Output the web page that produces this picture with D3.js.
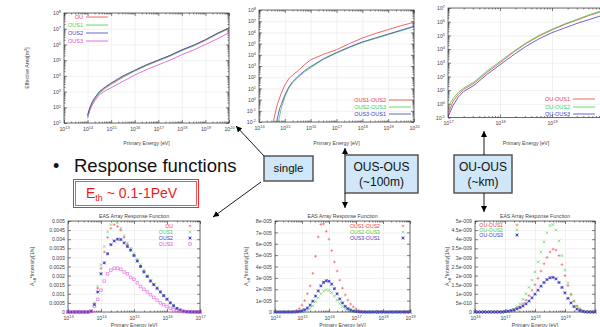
<!DOCTYPE html>
<html>
<head>
<meta charset="utf-8">
<script src="https://cdn.jsdelivr.net/npm/d3@7"></script>
<style>
  body { margin: 0; background: #fff; }
  svg { display: block; font-family: "Liberation Sans", Arial, sans-serif; }
</style>
</head>
<body>
<svg id="chart" width="600" height="327"></svg>
<script>
// ---------- data (energies and areas as log10 exponents) ----------
// top-left: effective area, single station
const areaExpX = [13, 14, 15, 16, 17, 18, 19, 20];
const areaExpY = [1, 2, 3, 4, 5, 6, 7, 8];
const areaE    = [14.0, 14.1, 14.2, 14.3, 14.5, 14.75, 15.0, 15.5, 16.0, 16.5, 17.0, 17.5, 18.0, 18.5, 19.0, 19.5, 20.0];
const areaOU   = [1.45, 1.95, 2.3, 2.55, 2.95, 3.25, 3.5, 3.95, 4.35, 4.7, 5.0, 5.3, 5.65, 5.95, 6.3, 6.7, 7.05];
const areaOUS1 = [1.4, 1.9, 2.25, 2.5, 2.9, 3.2, 3.45, 3.9, 4.3, 4.65, 4.95, 5.25, 5.6, 5.9, 6.25, 6.65, 7.0];
const areaOUS2 = [1.5, 2.0, 2.35, 2.6, 3.0, 3.3, 3.55, 4.0, 4.35, 4.7, 5.0, 5.3, 5.65, 5.95, 6.3, 6.7, 7.05];
const areaOUS3 = [1.3, 1.8, 2.15, 2.4, 2.8, 3.05, 3.25, 3.65, 4.05, 4.4, 4.7, 5.0, 5.35, 5.65, 6.0, 6.35, 6.75];

// top-middle: OUS-OUS coincidence
const pairExpX = [14, 15, 16, 17, 18, 19, 20];
const pairExpY = [-2, -1, 0, 1, 2, 3, 4, 5, 6, 7, 8];
const pair12E = [14.55, 14.7, 14.85, 15.0, 15.15, 15.3, 15.5, 15.75, 16.0, 16.5, 17.0, 17.5, 18.0, 18.5, 19.0, 19.5, 20.0];
const pair12A = [-2, -0.5, 0.5, 1.3, 1.85, 2.2, 2.55, 3.1, 3.55, 4.05, 4.45, 5.0, 5.5, 5.9, 6.25, 6.6, 6.9];
const pair23E = [14.75, 14.85, 15.0, 15.15, 15.3, 15.5, 15.75, 16.0, 16.5, 17.0, 17.5, 18.0, 18.5, 19.0, 19.5, 20.0];
const pair23A = [-2, -0.9, 0.25, 1.0, 1.5, 1.95, 2.45, 2.85, 3.6, 4.15, 4.65, 5.1, 5.45, 5.8, 6.15, 6.5];
const pair31E = [14.68, 14.8, 15.0, 15.15, 15.3, 15.5, 15.75, 16.0, 16.5, 17.0, 17.5, 18.0, 18.5, 19.0, 19.5, 20.0];
const pair31A = [-2, -0.8, 0.4, 1.1, 1.6, 2.05, 2.55, 2.95, 3.65, 4.2, 4.7, 5.15, 5.5, 5.85, 6.2, 6.55];

// top-right: OU-OUS coincidence
const farExpX = [17, 18, 19, 20];
const farExpY = [-1, 0, 1, 2, 3, 4, 5, 6, 7];
const farE  = [17.0, 17.1, 17.2, 17.3, 17.5, 17.75, 18.0, 18.25, 18.5, 18.75, 19.0, 19.25, 19.5, 19.75, 20.0];
const far1A = [-0.7, 0.2, 0.7, 1.05, 1.5, 2.3, 3.0, 3.75, 4.4, 4.95, 5.4, 5.8, 6.15, 6.5, 6.8];
const far2A = [-0.2, 0.4, 0.85, 1.15, 1.6, 2.4, 3.1, 3.8, 4.45, 5.0, 5.45, 5.85, 6.2, 6.55, 6.85];
const far3A = [-0.95, -0.1, 0.5, 0.9, 1.35, 2.15, 2.85, 3.55, 4.2, 4.75, 5.2, 5.55, 5.9, 6.2, 6.5];

// bottom-left: response function, single station
const rf1ExpX = [13, 14, 15, 16, 17];
const rf1Ticks = [0, 0.0005, 0.001, 0.0015, 0.002, 0.0025, 0.003, 0.0035, 0.004, 0.0045, 0.005];
const rf1Labels = ["0", "0.0005", "0.001", "0.0015", "0.002", "0.0025", "0.003", "0.0035", "0.004", "0.0045", "0.005"];
const rf1E = [13.0, 13.1, 13.2, 13.3, 13.4, 13.5, 13.6, 13.7, 13.8, 13.9, 14.0, 14.1, 14.2, 14.3, 14.4, 14.5, 14.6, 14.7, 14.8, 14.9,
              15.0, 15.1, 15.2, 15.3, 15.4, 15.5, 15.6, 15.7, 15.8, 15.9, 16.0, 16.1, 16.2, 16.3, 16.4, 16.5, 16.6, 16.7, 16.8, 16.9, 17.0];
const rfOU   = [0, 0, 0, 0, 0, 0, 0, 0.00004, 0.00045, 0.0013, 0.0024, 0.0033, 0.0041, 0.0046, 0.0048, 0.0047, 0.0045, 0.0041, 0.0037, 0.0034,
                0.0031, 0.0028, 0.0025, 0.0022, 0.00195, 0.0017, 0.0015, 0.0013, 0.0011, 0.0009, 0.0007, 0.0005, 0.00034, 0.0002, 0.00011, 0.00005, 0.00002, 0.00001, 0, 0, 0];
const rfOUS1 = [0, 0, 0, 0, 0, 0, 0, 0.00005, 0.0005, 0.0014, 0.0026, 0.0036, 0.0044, 0.0048, 0.005, 0.0049, 0.0046, 0.0042, 0.0038, 0.0035,
                0.0032, 0.0029, 0.0026, 0.0023, 0.002, 0.00175, 0.00155, 0.00133, 0.00112, 0.00092, 0.00072, 0.00052, 0.00035, 0.00021, 0.00012, 0.00006, 0.00002, 0.00001, 0, 0, 0];
const rfOUS2 = [0, 0, 0, 0, 0, 0, 0, 0.00005, 0.0004, 0.0011, 0.0021, 0.0027, 0.0032, 0.0037, 0.0039, 0.004, 0.00398, 0.0038, 0.0036, 0.0034,
                0.0031, 0.0028, 0.0025, 0.0022, 0.00195, 0.0017, 0.0015, 0.0013, 0.0011, 0.0009, 0.0007, 0.0005, 0.00034, 0.0002, 0.00011, 0.00005, 0.00002, 0.00001, 0, 0, 0];
const rfOUS3 = [0, 0, 0, 0, 0, 0, 0, 0.00003, 0.0003, 0.0007, 0.0012, 0.0017, 0.0021, 0.0023, 0.0024, 0.0024, 0.00235, 0.0022, 0.0021, 0.0019,
                0.0018, 0.0016, 0.0014, 0.00125, 0.0011, 0.00095, 0.0008, 0.00065, 0.0005, 0.0004, 0.0003, 0.0002, 0.00012, 0.00007, 0.00003, 0.00001, 0, 0, 0, 0, 0];

// bottom-middle: response function, OUS-OUS
const rf2ExpX = [14, 15, 16, 17, 18, 19];
const rf2Ticks = [0, 1e-5, 2e-5, 3e-5, 4e-5, 5e-5, 6e-5, 7e-5, 8e-5];
const rf2Labels = ["0", "1e-005", "2e-005", "3e-005", "4e-005", "5e-005", "6e-005", "7e-005", "8e-005"];
const rf2E = [14.0, 14.1, 14.2, 14.3, 14.4, 14.5, 14.6, 14.7, 14.8, 14.9, 15.0, 15.1, 15.2, 15.3, 15.4, 15.5, 15.6, 15.7, 15.8, 15.9,
              16.0, 16.1, 16.2, 16.3, 16.4, 16.5, 16.6, 16.7, 16.8, 16.9, 17.0, 17.1, 17.2, 17.3, 17.4, 17.5, 17.6, 17.7, 17.8, 17.9,
              18.0, 18.1, 18.2, 18.3, 18.4, 18.5, 18.6, 18.7, 18.8, 18.9, 19.0];
const rfOUS12 = [0, 0, 0, 0, 0, 0, 0, 0.05e-5, 0.15e-5, 0.3e-5, 0.6e-5, 1.0e-5, 1.6e-5, 2.3e-5, 3.4e-5, 4.9e-5, 6.6e-5, 7.7e-5, 7.75e-5, 7.1e-5,
                 6.4e-5, 5.4e-5, 4.4e-5, 3.6e-5, 2.8e-5, 2.1e-5, 1.5e-5, 1.05e-5, 0.7e-5, 0.45e-5, 0.28e-5, 0.15e-5, 0.08e-5, 0.03e-5, 0, 0, 0, 0, 0, 0,
                 0, 0, 0, 0, 0, 0, 0, 0, 0, 0, 0];
const rfOUS23 = [0, 0, 0, 0, 0, 0, 0, 0, 0, 0, 0.02e-5, 0.06e-5, 0.15e-5, 0.3e-5, 0.55e-5, 0.9e-5, 1.25e-5, 1.6e-5, 1.85e-5, 1.95e-5,
                 1.9e-5, 1.7e-5, 1.4e-5, 1.05e-5, 0.75e-5, 0.5e-5, 0.3e-5, 0.17e-5, 0.09e-5, 0.04e-5, 0.02e-5, 0, 0, 0, 0, 0, 0, 0, 0, 0,
                 0, 0, 0, 0, 0, 0, 0, 0, 0, 0, 0];
const rfOUS31 = [0, 0, 0, 0, 0, 0, 0, 0, 0.02e-5, 0.05e-5, 0.1e-5, 0.2e-5, 0.35e-5, 0.6e-5, 0.95e-5, 1.4e-5, 1.85e-5, 2.3e-5, 2.6e-5, 2.75e-5,
                 2.7e-5, 2.45e-5, 2.05e-5, 1.6e-5, 1.15e-5, 0.8e-5, 0.5e-5, 0.3e-5, 0.17e-5, 0.09e-5, 0.04e-5, 0.02e-5, 0, 0, 0, 0, 0, 0, 0, 0,
                 0, 0, 0, 0, 0, 0, 0, 0, 0, 0, 0];

// bottom-right: response function, OU-OUS
const rf3ExpX = [16, 17, 18, 19, 20];
const rf3Ticks = [0, 0.5e-9, 1e-9, 1.5e-9, 2e-9, 2.5e-9, 3e-9, 3.5e-9, 4e-9, 4.5e-9, 5e-9];
const rf3Labels = ["0", "5e-010", "1e-009", "1.5e-009", "2e-009", "2.5e-009", "3e-009", "3.5e-009", "4e-009", "4.5e-009", "5e-009"];
const rf3E = [16.0, 16.1, 16.2, 16.3, 16.4, 16.5, 16.6, 16.7, 16.8, 16.9, 17.0, 17.1, 17.2, 17.3, 17.4, 17.5, 17.6, 17.7, 17.8, 17.9,
              18.0, 18.1, 18.2, 18.3, 18.4, 18.5, 18.6, 18.7, 18.8, 18.9, 19.0, 19.1, 19.2, 19.3, 19.4, 19.5, 19.6, 19.7, 19.8, 19.9, 20.0];
const rfOUS_1 = [0, 0, 0, 0, 0, 0, 0, 0, 0, 0, 0.01e-9, 0.02e-9, 0.05e-9, 0.1e-9, 0.18e-9, 0.3e-9, 0.45e-9, 0.65e-9, 0.9e-9, 1.2e-9,
                 1.5e-9, 1.85e-9, 2.25e-9, 2.65e-9, 3.0e-9, 3.3e-9, 3.45e-9, 3.4e-9, 3.1e-9, 2.6e-9, 2.0e-9, 1.45e-9, 0.95e-9, 0.6e-9, 0.33e-9, 0.17e-9, 0.07e-9, 0.03e-9, 0, 0, 0];
const rfOUS_2 = [0, 0, 0, 0, 0, 0, 0, 0, 0, 0, 0.01e-9, 0.03e-9, 0.08e-9, 0.15e-9, 0.28e-9, 0.45e-9, 0.7e-9, 1.0e-9, 1.35e-9, 1.75e-9,
                 2.2e-9, 2.75e-9, 3.3e-9, 3.85e-9, 4.35e-9, 4.75e-9, 4.8e-9, 4.5e-9, 3.9e-9, 3.1e-9, 2.3e-9, 1.6e-9, 1.0e-9, 0.6e-9, 0.32e-9, 0.15e-9, 0.06e-9, 0.02e-9, 0, 0, 0];
const rfOUS_3 = [0, 0, 0, 0, 0, 0, 0, 0, 0, 0, 0.02e-9, 0.05e-9, 0.08e-9, 0.12e-9, 0.17e-9, 0.24e-9, 0.33e-9, 0.45e-9, 0.6e-9, 0.78e-9,
                 0.98e-9, 1.2e-9, 1.42e-9, 1.62e-9, 1.78e-9, 1.88e-9, 1.9e-9, 1.82e-9, 1.62e-9, 1.35e-9, 1.05e-9, 0.75e-9, 0.5e-9, 0.3e-9, 0.16e-9, 0.08e-9, 0.03e-9, 0, 0, 0, 0];

// ---------- style ----------
const RED = "#ec4040", GREEN = "#48cc48", BLUE = "#4040c4", MAGENTA = "#e048e0";
const FS = 5.2;

const svg = d3.select("#chart");
svg.append("rect").attr("width", 600).attr("height", 327).attr("fill", "#fff");

const defs = svg.append("defs");
defs.append("marker")
  .attr("id", "arr").attr("viewBox", "0 0 8 8").attr("refX", 8).attr("refY", 4)
  .attr("markerWidth", 6).attr("markerHeight", 6).attr("markerUnits", "userSpaceOnUse")
  .attr("orient", "auto")
  .append("path").attr("d", "M0,0L8,4L0,8z").attr("fill", "#000");

// one gnuplot-like frame with log x axis
function panel(o) {
  const w = o.x1 - o.x0, h = o.y1 - o.y0;
  const g = svg.append("g").attr("transform", `translate(${o.x0},${o.y0})`);
  const xv = o.xExp.map(e => 10 ** e);
  const x = d3.scaleLog().domain(d3.extent(xv)).range([0, w]);
  let y, yv;
  if (o.yExp) {
    yv = o.yExp.map(e => 10 ** e);
    y = d3.scaleLog().domain(d3.extent(yv)).range([h, 0]);
  } else {
    yv = o.yTicks;
    y = d3.scaleLinear().domain(d3.extent(yv)).range([h, 0]);
  }

  // minor ticks on log axes
  const minor = exps => {
    const out = [];
    for (let i = 0; i < exps.length - 1; i++) for (let k = 2; k < 10; k++) out.push(k * 10 ** exps[i]);
    return out;
  };
  const xm = minor(o.xExp);
  const ym = o.yExp ? minor(o.yExp) : [];

  // grid
  const grid = g.append("g").attr("color", "#e3e3e3");
  grid.append("g").call(d3.axisBottom(x).tickValues(xv).tickSize(h).tickFormat(""));
  grid.append("g").call(d3.axisLeft(y).tickValues(yv).tickSize(-w).tickFormat(""));
  grid.selectAll(".domain").remove();
  grid.selectAll("line").attr("stroke-width", 0.5);

  // frame
  g.append("rect").attr("width", w).attr("height", h)
    .attr("fill", "none").attr("stroke", "#333").attr("stroke-width", 0.7);

  const axes = g.append("g").attr("color", "#333");
  const xa = axes.append("g").attr("transform", `translate(0,${h})`)
    .call(d3.axisBottom(x).tickValues(xv).tickSizeInner(-3).tickSizeOuter(0).tickPadding(4).tickFormat(() => "10"));
  xa.selectAll(".tick text").each(function (d, i) {
    // labels beyond the slide edge are not shown
    if (o.x0 + x(d) > 594) { d3.select(this).remove(); return; }
    d3.select(this).append("tspan").attr("dy", "-0.45em").attr("font-size", FS * 0.75).text(o.xExp[i]);
  });
  axes.append("g").attr("transform", `translate(0,${h})`)
    .call(d3.axisBottom(x).tickValues(xm).tickSize(-1.5).tickFormat(""));
  axes.append("g").call(d3.axisTop(x).tickValues(xv).tickSize(-3).tickFormat(""));
  axes.append("g").call(d3.axisTop(x).tickValues(xm).tickSize(-1.5).tickFormat(""));

  const ya = axes.append("g")
    .call(d3.axisLeft(y).tickValues(yv).tickSizeInner(-3).tickSizeOuter(0).tickPadding(3)
      .tickFormat(o.yExp ? () => "10" : (d, i) => o.yLabels[i]));
  if (o.yExp) {
    ya.selectAll(".tick text").each(function (d, i) {
      d3.select(this).append("tspan").attr("dy", "-0.45em").attr("font-size", FS * 0.75).text(o.yExp[i]);
    });
  }
  axes.append("g").attr("transform", `translate(${w},0)`)
    .call(d3.axisRight(y).tickValues(yv).tickSize(-3).tickFormat(""));
  if (ym.length) {
    axes.append("g").call(d3.axisLeft(y).tickValues(ym).tickSize(-1.5).tickFormat(""));
    axes.append("g").attr("transform", `translate(${w},0)`)
      .call(d3.axisRight(y).tickValues(ym).tickSize(-1.5).tickFormat(""));
  }
  axes.selectAll(".domain").remove();
  axes.selectAll("line").attr("stroke-width", 0.6);
  axes.selectAll("g").attr("font-size", FS).attr("font-family", null);
  axes.selectAll("text").attr("fill", "#444");

  // axis titles
  g.append("text").attr("x", Math.min(w, 594 - o.x0 - w / 2) / 2 + Math.max(0, w - Math.min(w, 594 - o.x0 - w / 2)) / 2)
    .attr("y", o.xTitleY - o.y0).attr("text-anchor", "middle")
    .attr("font-size", FS).attr("fill", "#444").text("Primary Energy [eV]");
  if (o.title) {
    g.append("text").attr("x", w / 2).attr("y", -3).attr("text-anchor", "middle")
      .attr("font-size", FS).attr("fill", "#444").text(o.title);
  }
  if (o.yTitle) {
    const t = svg.append("text").attr("transform", `translate(${o.yTitleX},${o.y0 + h / 2}) rotate(-90)`)
      .attr("text-anchor", "middle").attr("font-size", FS).attr("fill", "#444");
    o.yTitle(t);
  }
  const clipId = "clip" + o.x0 + "_" + o.y0;
  defs.append("clipPath").attr("id", clipId).append("rect").attr("width", w).attr("height", h);
  const plot = g.append("g").attr("clip-path", `url(#${clipId})`);
  return { g, plot, x, y, w, h };
}

function curve(p, es, as, color) {
  const pts = es.map((e, i) => [e, as[i]]);
  p.plot.append("path").datum(pts)
    .attr("fill", "none").attr("stroke", color).attr("stroke-width", 0.8)
    .attr("d", d3.line().x(d => p.x(10 ** d[0])).y(d => p.y(10 ** d[1])));
}

function symbolPath(type, cx, cy, s) {
  const plus = `M${cx - s},${cy}H${cx + s}M${cx},${cy - s}V${cy + s}`;
  const cross = `M${cx - s},${cy - s}L${cx + s},${cy + s}M${cx - s},${cy + s}L${cx + s},${cy - s}`;
  if (type === "plus") return plus;
  if (type === "cross") return cross;
  if (type === "star") return plus + cross;
  return `M${cx - s},${cy - s}H${cx + s}V${cy + s}H${cx - s}Z`;
}

function points(p, es, vs, type, color) {
  const d = es.map((e, i) => symbolPath(type, p.x(10 ** e), p.y(vs[i]), type === "square" ? 1.3 : 1.4)).join("");
  p.g.append("path").attr("d", d).attr("fill", "none").attr("stroke", color)
    .attr("stroke-width", type === "star" ? 0.85 : 0.55);
}

function lineLegend(g, xEnd, yy, label, color) {
  g.append("text").attr("x", xEnd).attr("y", yy + 1.8).attr("text-anchor", "end")
    .attr("font-size", FS + 0.3).attr("fill", color).text(label);
  g.append("line").attr("x1", xEnd + 3).attr("x2", xEnd + 25).attr("y1", yy).attr("y2", yy)
    .attr("stroke", color).attr("stroke-width", 0.8);
}

function pointLegend(g, xEnd, mx, yy, label, type, color) {
  g.append("text").attr("x", xEnd).attr("y", yy + 1.8).attr("text-anchor", "end")
    .attr("font-size", FS).attr("fill", color).text(label);
  g.append("path").attr("d", symbolPath(type, mx, yy, type === "square" ? 1.3 : 1.4))
    .attr("fill", "none").attr("stroke", color).attr("stroke-width", type === "star" ? 0.85 : 0.55);
}

// ---------- top row: effective areas ----------
const p1 = panel({
  x0: 64, x1: 229, y0: 13, y1: 123, xExp: areaExpX, yExp: areaExpY, xTitleY: 145,
  yTitleX: 29, yTitle: t => { t.text("Effective Area[m"); t.append("tspan").attr("dy", -2).attr("font-size", 4).text("2"); t.append("tspan").attr("dy", 2).text("]"); }
});
curve(p1, areaE, areaOUS3, MAGENTA);
curve(p1, areaE, areaOU, RED);
curve(p1, areaE, areaOUS1, GREEN);
curve(p1, areaE, areaOUS2, BLUE);
lineLegend(svg, 83, 17, "OU", RED);
lineLegend(svg, 83, 25, "OUS1", GREEN);
lineLegend(svg, 83, 33, "OUS2", BLUE);
lineLegend(svg, 83, 41, "OUS3", MAGENTA);

const p2 = panel({ x0: 259, x1: 414, y0: 10, y1: 122, xExp: pairExpX, yExp: pairExpY, xTitleY: 145 });
curve(p2, pair12E, pair12A, RED);
curve(p2, pair23E, pair23A, GREEN);
curve(p2, pair31E, pair31A, BLUE);
lineLegend(svg, 386, 100, "OUS1-OUS2", RED);
lineLegend(svg, 386, 107, "OUS2-OUS3", GREEN);
lineLegend(svg, 386, 114, "OUS3-OUS1", BLUE);

const p3 = panel({ x0: 448, x1: 604, y0: 8, y1: 117.5, xExp: farExpX, yExp: farExpY, xTitleY: 145 });
curve(p3, farE, far1A, RED);
curve(p3, farE, far2A, GREEN);
curve(p3, farE, far3A, BLUE);
lineLegend(svg, 570, 99, "OU-OUS1", RED);
lineLegend(svg, 570, 107, "OU-OUS2", GREEN);
lineLegend(svg, 570, 114, "OU-OUS3", BLUE);

// ---------- bottom row: response functions ----------
const effTitle = t => {
  t.text("A");
  t.append("tspan").attr("dy", 1.5).attr("font-size", 4).text("eff");
  t.append("tspan").attr("dy", -1.5).text("*Intensity[1/s]");
};
const RF_TITLE = "EAS Array Response Function";

const p4 = panel({ x0: 68, x1: 200, y0: 221, y1: 312, xExp: rf1ExpX, yTicks: rf1Ticks, yLabels: rf1Labels,
  xTitleY: 326.5, title: RF_TITLE, yTitleX: 34, yTitle: effTitle });
points(p4, rf1E, rfOU, "plus", RED);
points(p4, rf1E, rfOUS1, "cross", GREEN);
points(p4, rf1E, rfOUS2, "star", BLUE);
points(p4, rf1E, rfOUS3, "square", MAGENTA);
pointLegend(svg, 173, 190, 226, "OU", "plus", RED);
pointLegend(svg, 173, 190, 232, "OUS1", "cross", GREEN);
pointLegend(svg, 173, 190, 238, "OUS2", "star", BLUE);
pointLegend(svg, 173, 190, 244, "OUS3", "square", MAGENTA);

const p5 = panel({ x0: 275, x1: 410, y0: 221, y1: 312, xExp: rf2ExpX, yTicks: rf2Ticks, yLabels: rf2Labels,
  xTitleY: 326.5, title: RF_TITLE, yTitleX: 248, yTitle: effTitle });
points(p5, rf2E, rfOUS12, "plus", RED);
points(p5, rf2E, rfOUS23, "cross", GREEN);
points(p5, rf2E, rfOUS31, "star", BLUE);
pointLegend(svg, 380, 403, 226, "OUS1-OUS2", "plus", RED);
pointLegend(svg, 380, 403, 232, "OUS2-OUS3", "cross", GREEN);
pointLegend(svg, 380, 403, 238, "OUS3-OUS1", "star", BLUE);

const p6 = panel({ x0: 475, x1: 595, y0: 221, y1: 312, xExp: rf3ExpX, yTicks: rf3Ticks, yLabels: rf3Labels,
  xTitleY: 326.5, title: RF_TITLE, yTitleX: 449, yTitle: effTitle });
points(p6, rf3E, rfOUS_1, "plus", RED);
points(p6, rf3E, rfOUS_2, "cross", GREEN);
points(p6, rf3E, rfOUS_3, "star", BLUE);
pointLegend(svg, 503, 517, 225, "OU-OUS1", "plus", RED);
pointLegend(svg, 503, 517, 230, "OU-OUS2", "cross", GREEN);
pointLegend(svg, 503, 517, 235, "OU-OUS3", "star", BLUE);

// ---------- slide annotations ----------
svg.append("text").attr("x", 53).attr("y", 172).attr("font-size", 18).attr("fill", "#111").text("•");
svg.append("text").attr("x", 74).attr("y", 172).attr("font-size", 18.5).attr("fill", "#111").text("Response functions");

svg.append("rect").attr("x", 73.5).attr("y", 179.5).attr("width", 125).attr("height", 28)
  .attr("fill", "none").attr("stroke", "#f03030").attr("stroke-width", 1);
svg.append("rect").attr("x", 75.5).attr("y", 181.5).attr("width", 121).attr("height", 24)
  .attr("fill", "none").attr("stroke", "#f03030").attr("stroke-width", 0.8);
const eth = svg.append("text").attr("x", 86).attr("y", 198).attr("font-size", 14).attr("fill", "#f01818");
eth.append("tspan").text("E");
eth.append("tspan").attr("dy", 3).attr("font-size", 9).text("th");
eth.append("tspan").attr("dy", -3).text(" ~ 0.1-1PeV");

function box(x, y, w, h, lines, fs) {
  svg.append("rect").attr("x", x).attr("y", y).attr("width", w).attr("height", h)
    .attr("fill", "#cfe7f8").attr("stroke", "#555").attr("stroke-width", 1.5);
  lines.forEach(l => {
    svg.append("text").attr("x", x + w / 2).attr("y", l[1]).attr("text-anchor", "middle")
      .attr("font-size", fs).attr("fill", "#111").text(l[0]);
  });
}
box(264, 156, 49, 25, [["single", 172]], 11.5);
box(345, 155, 73, 38, [["OUS-OUS", 171], ["(~100m)", 186]], 12);
box(454, 155, 58, 38, [["OU-OUS", 171], ["(~km)", 186]], 12);

function arrow(x1, y1, x2, y2) {
  svg.append("line").attr("x1", x1).attr("y1", y1).attr("x2", x2).attr("y2", y2)
    .attr("stroke", "#000").attr("stroke-width", 0.9).attr("marker-end", "url(#arr)");
}
arrow(264, 156, 236, 126);
arrow(261, 182, 213, 217);
arrow(345, 155, 345, 148);
arrow(345, 193, 345, 208);
arrow(484, 155, 484, 131);
arrow(484, 193, 484, 212);
</script>
</body>
</html>
